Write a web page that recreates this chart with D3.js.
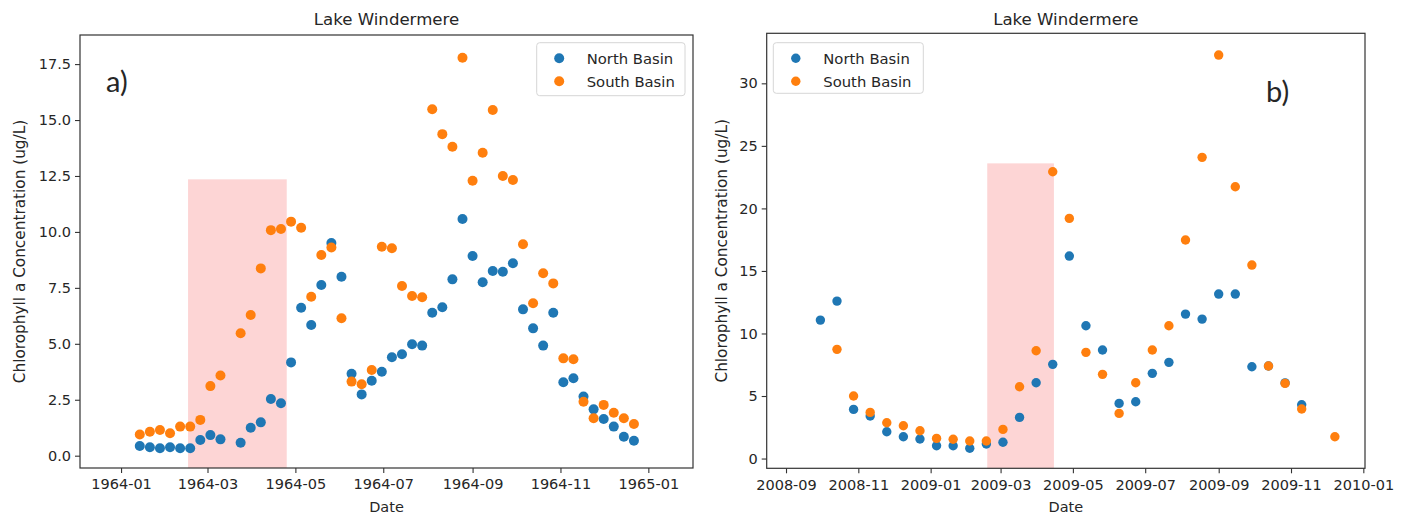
<!DOCTYPE html>
<html>
<head>
<meta charset="utf-8">
<script src="https://cdn.jsdelivr.net/npm/d3@7"></script>
<style>
  html, body { margin: 0; padding: 0; background: #fff; }
  svg { display: block; }
  text { font-family: "DejaVu Sans", sans-serif; fill: #262626; }
</style>
</head>
<body>
<svg id="chart" width="1409" height="516"></svg>
<script>
// ---------------- DATA ----------------
const seriesNames = ["North Basin", "South Basin"];
const chartTitle = "Lake Windermere";
const yLabel = "Chlorophyll a Concentration (ug/L)";
const xLabel = "Date";

// Panel a) 1964, weekly samples
const datesA = ["1964-01-14","1964-01-21","1964-01-28","1964-02-04","1964-02-11","1964-02-18","1964-02-25",
  "1964-03-03","1964-03-10","1964-03-24","1964-03-31","1964-04-07","1964-04-14","1964-04-21","1964-04-28",
  "1964-05-05","1964-05-12","1964-05-19","1964-05-26","1964-06-02","1964-06-09","1964-06-16","1964-06-23",
  "1964-06-30","1964-07-07","1964-07-14","1964-07-21","1964-07-28","1964-08-04","1964-08-11","1964-08-18",
  "1964-08-25","1964-09-01","1964-09-08","1964-09-15","1964-09-22","1964-09-29","1964-10-06","1964-10-13",
  "1964-10-20","1964-10-27","1964-11-03","1964-11-10","1964-11-17","1964-11-24","1964-12-01","1964-12-08",
  "1964-12-15","1964-12-22"];
const northA = [0.43,0.38,0.33,0.38,0.33,0.33,0.70,
  0.92,0.73,0.58,1.25,1.49,2.53,2.34,4.17,
  6.61,5.84,7.63,9.50,8.00,3.66,2.74,3.35,
  3.75,4.40,4.53,4.98,4.92,6.39,6.63,7.88,
  10.58,8.92,7.75,8.25,8.22,8.60,6.54,5.69,
  4.92,6.39,3.28,3.46,2.64,2.07,1.64,1.30,
  0.85,0.67];
const southA = [0.95,1.07,1.15,1.00,1.30,1.30,1.60,
  3.11,3.58,5.47,6.29,8.37,10.08,10.13,10.46,
  10.19,7.10,8.97,9.30,6.14,3.31,3.19,3.83,
  9.34,9.27,7.58,7.14,7.08,15.48,14.37,13.81,
  17.78,12.29,13.54,15.45,12.50,12.32,9.45,6.81,
  8.15,7.70,4.35,4.31,2.41,1.67,2.27,1.92,
  1.67,1.42];
const xTicksA = ["1964-01","1964-03","1964-05","1964-07","1964-09","1964-11","1965-01"];
const yTicksA = [0, 2.5, 5, 7.5, 10, 12.5, 15, 17.5];
const spanA = ["1964-02-16T12:00", "1964-04-25", 12.35];

// Panel b) 2008-2009, fortnightly samples
const datesB = ["2008-09-30","2008-10-14","2008-10-28","2008-11-11","2008-11-25","2008-12-09","2008-12-23",
  "2009-01-06","2009-01-20","2009-02-03","2009-02-17","2009-03-03","2009-03-17","2009-03-31","2009-04-14",
  "2009-04-28","2009-05-12","2009-05-26","2009-06-09","2009-06-23","2009-07-07","2009-07-21","2009-08-04",
  "2009-08-18","2009-09-01","2009-09-15","2009-09-29","2009-10-13","2009-10-27","2009-11-10","2009-11-24",
  "2009-12-08"];
const northB = [11.07,12.59,3.93,3.40,2.14,1.74,1.56,
  1.02,1.02,0.82,1.16,1.30,3.29,6.06,7.53,
  16.19,10.62,8.68,4.41,4.54,6.81,7.69,11.55,
  11.15,13.15,13.15,7.34,7.40,6.05,4.30,null,
  null];
const southB = [null,8.73,5.00,3.69,2.86,2.62,2.22,
  1.61,1.54,1.40,1.40,2.33,5.74,8.62,22.93,
  19.20,8.49,6.73,3.61,6.06,8.68,10.62,17.47,
  24.08,32.26,21.73,15.47,7.40,6.01,3.96,null,
  1.74];
const xTicksB = ["2008-09","2008-11","2009-01","2009-03","2009-05","2009-07","2009-09","2009-11","2010-01"];
const yTicksB = [0, 5, 10, 15, 20, 25, 30];
const spanB = ["2009-02-17T18:00", "2009-04-15", 23.6];

// ---------------- LAYOUT ----------------
const colors = ["#1f77b4", "#ff7f0e"];
const parseDay = d3.timeParse("%Y-%m-%d");
const parseMonth = d3.timeParse("%Y-%m");
const parseISO = d3.isoParse;

const panels = [
  { dates: datesA, north: northA, south: southA, xTicks: xTicksA, yTicks: yTicksA, span: spanA,
    yFmt: d3.format(".1f"),
    left: 80, right: 693, top: 35, bottom: 468,
    xDomain: ["1963-12-03T12:00", "1965-02-01"], yDomain: [-0.55, 18.8],
    r: 5, tag: "a)", tagX: 106, tagY: 92,
    legend: { x: 536.7, y: 42.7, w: 148.3, h: 53 }, ylabX: 20 },
  { dates: datesB, north: northB, south: southB, xTicks: xTicksB, yTicks: yTicksB, span: spanB,
    yFmt: d3.format("d"),
    left: 766.7, right: 1365, top: 33.3, bottom: 468.3,
    xDomain: ["2008-08-15T17:00", "2010-01-02T10:00"], yDomain: [-0.78, 34.0],
    r: 4.7, tag: "b)", tagX: 1266, tagY: 102,
    legend: { x: 773.3, y: 42.7, w: 150, h: 50.6 }, ylabX: 722 }
];

const svg = d3.select("#chart");

panels.forEach(p => {
  const x = d3.scaleTime().domain(p.xDomain.map(d => parseISO(d))).range([p.left, p.right]);
  const y = d3.scaleLinear().domain(p.yDomain).range([p.bottom, p.top]);
  const g = svg.append("g");

  const clipId = "clip" + p.tag.replace(")", "");
  svg.append("clipPath").attr("id", clipId).append("rect")
    .attr("x", p.left).attr("y", p.top).attr("width", p.right - p.left).attr("height", p.bottom - p.top);

  // shaded span
  g.append("rect")
    .attr("clip-path", `url(#${clipId})`)
    .attr("x", x(parseISO(p.span[0])))
    .attr("width", x(parseISO(p.span[1])) - x(parseISO(p.span[0])))
    .attr("y", y(p.span[2]))
    .attr("height", p.bottom - y(p.span[2]))
    .attr("fill", "#fdd5d5");

  // axes
  const xAxis = d3.axisBottom(x)
    .tickValues(p.xTicks.map(parseMonth))
    .tickFormat(d3.timeFormat("%Y-%m"))
    .tickSize(5).tickPadding(6);
  const yAxis = d3.axisLeft(y)
    .tickValues(p.yTicks)
    .tickFormat(p.yFmt)
    .tickSize(5).tickPadding(4);

  const gx = g.append("g").attr("transform", `translate(0,${p.bottom})`).call(xAxis);
  const gy = g.append("g").attr("transform", `translate(${p.left},0)`).call(yAxis);
  [gx, gy].forEach(a => {
    a.select(".domain").remove();
    a.selectAll(".tick line").attr("stroke", "#333").attr("stroke-width", 1.1);
    a.selectAll(".tick text").attr("fill", "#262626").style("font-size", "14.5px")
      .style("font-family", "DejaVu Sans");
  });

  // points: North first, South on top
  [p.north, p.south].forEach((vals, si) => {
    const pts = p.dates.map((d, i) => ({ date: parseDay(d), v: vals[i] })).filter(d => d.v !== null);
    g.append("g").selectAll("circle").data(pts).enter().append("circle")
      .attr("cx", d => x(d.date))
      .attr("cy", d => y(d.v))
      .attr("r", p.r)
      .attr("fill", colors[si]);
  });

  // frame
  g.append("rect")
    .attr("x", p.left).attr("y", p.top)
    .attr("width", p.right - p.left).attr("height", p.bottom - p.top)
    .attr("fill", "none").attr("stroke", "#333").attr("stroke-width", 1.2);

  // title
  g.append("text")
    .attr("x", (p.left + p.right) / 2).attr("y", 25)
    .attr("text-anchor", "middle")
    .style("font-size", "16.6px")
    .text(chartTitle);

  // axis labels
  g.append("text")
    .attr("x", (p.left + p.right) / 2).attr("y", 512)
    .attr("text-anchor", "middle")
    .style("font-size", "14.5px")
    .text(xLabel);
  g.append("text")
    .attr("transform", `translate(${p.ylabX + 5},${(p.top + p.bottom) / 2}) rotate(-90)`)
    .attr("text-anchor", "middle")
    .style("font-size", "15.3px")
    .text(yLabel);

  // legend
  const L = p.legend;
  const lg = g.append("g");
  lg.append("rect")
    .attr("x", L.x).attr("y", L.y).attr("width", L.w).attr("height", L.h)
    .attr("rx", 3).attr("fill", "#fff").attr("fill-opacity", 0.85)
    .attr("stroke", "#d6d6d6").attr("stroke-width", 1);
  seriesNames.forEach((name, i) => {
    const cy = L.y + 15.5 + i * 23;
    lg.append("circle").attr("cx", L.x + 22.5).attr("cy", cy).attr("r", p.r).attr("fill", colors[i]);
    lg.append("text").attr("x", L.x + 50).attr("y", cy + 5.3)
      .style("font-size", "14.8px").text(name);
  });

  // panel tag
  g.append("text")
    .attr("x", p.tagX).attr("y", p.tagY)
    .style("font-family", "Lato, 'Open Sans', sans-serif")
    .style("font-size", "29px")
    .attr("fill", "#111")
    .text(p.tag);
});
</script>
</body>
</html>
